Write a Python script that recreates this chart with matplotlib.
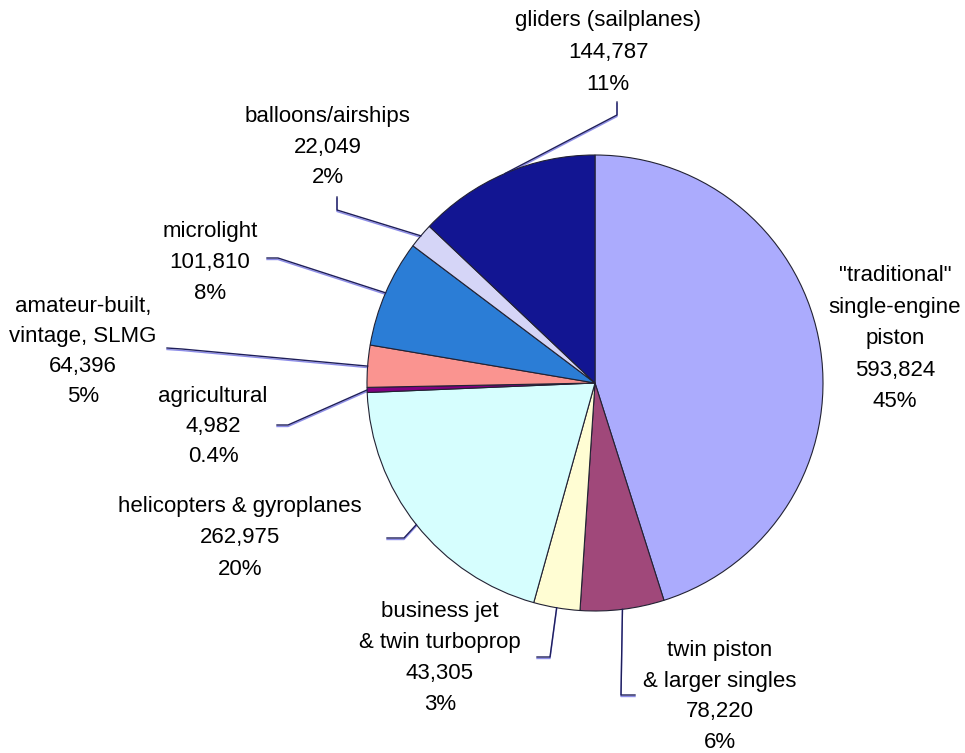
import numpy as np
import matplotlib
matplotlib.use('Agg')
import matplotlib.pyplot as plt

plt.rcParams['font.family'] = ['Liberation Sans', 'DejaVu Sans']

# Kategorie i wartości (etykiety z wykresu)
names = ['"traditional"\nsingle-engine\npiston',
         'twin piston\n& larger singles',
         'business jet\n& twin turboprop',
         'helicopters & gyroplanes',
         'agricultural',
         'amateur-built,\nvintage, SLMG',
         'microlight',
         'balloons/airships',
         'gliders (sailplanes)']
counts = ['593,824', '78,220', '43,305', '262,975', '4,982',
          '64,396', '101,810', '22,049', '144,787']
pct_text = ['45%', '6%', '3%', '20%', '0.4%', '5%', '8%', '2%', '11%']
# udział wycinków (w %)
drawn_share = [45.1, 5.94, 3.28, 20.0, 0.36, 2.97, 7.61, 1.78, 12.94]
colors = ['#ABABFD', '#A0487A', '#FFFDD3', '#D6FEFE', '#800080',
          '#FA9490', '#2B7DD6', '#D5D5F7', '#121592']

W, H = 965, 753
fig = plt.figure(figsize=(W / 100, H / 100), dpi=100)
ax = fig.add_axes([0, 0, 1, 1])

cx, cy, r = 595, H - 383, 228
wedges, _ = ax.pie(drawn_share, colors=colors, startangle=90, counterclock=False,
                   center=(cx, cy), radius=r,
                   wedgeprops=dict(edgecolor='#222233', linewidth=0.8))
ax.set_xlim(0, W)
ax.set_ylim(0, H)
ax.set_aspect('equal')
ax.axis('off')

# pozycje etykiet: (x środka, baseline pierwszej linii, odstęp linii) w pikselach obrazka
label_pos = [(895, 281, 31.5), (720, 656, 30.5), (440, 617, 31), (240, 512, 31.5),
             (213, 402, 30), (83, 312, 30), (210, 237, 31), (328, 122, 30.5),
             (608, 26, 32)]
# łamane linii odnośników (bez punktu na wycinku, ten liczony z kąta)
leaders = [None,
           [(635, 695), (621, 695)],
           [(537, 657), (550, 657)],
           [(387, 538), (404, 538)],
           [(277, 425), (288, 425)],
           [(167, 348), (182, 349)],
           [(267, 258), (278, 258)],
           [(337, 197), (337, 210)],
           [(617, 102), (617, 115)]]

for i, w in enumerate(wedges):
    lines = names[i].split('\n') + [counts[i], pct_text[i]]
    x0, y0, dy = label_pos[i]
    for j, line in enumerate(lines):
        ax.text(x0, H - (y0 + j * dy), line, ha='center', va='baseline',
                fontsize=16, color='black')
    if leaders[i] is not None:
        mid = np.deg2rad((w.theta1 + w.theta2) / 2)
        px = [p[0] for p in leaders[i]] + [cx + r * np.cos(mid)]
        py = [H - p[1] for p in leaders[i]] + [cy + r * np.sin(mid)]
        ax.plot(px, py, color='#8C8CE8', linewidth=1.0, zorder=0,
                transform=ax.transData + matplotlib.transforms.Affine2D().translate(0, -1.5))
        ax.plot(px, py, color='#1E1E5A', linewidth=1.0)

fig.savefig('out.png', dpi=100, facecolor='white')
